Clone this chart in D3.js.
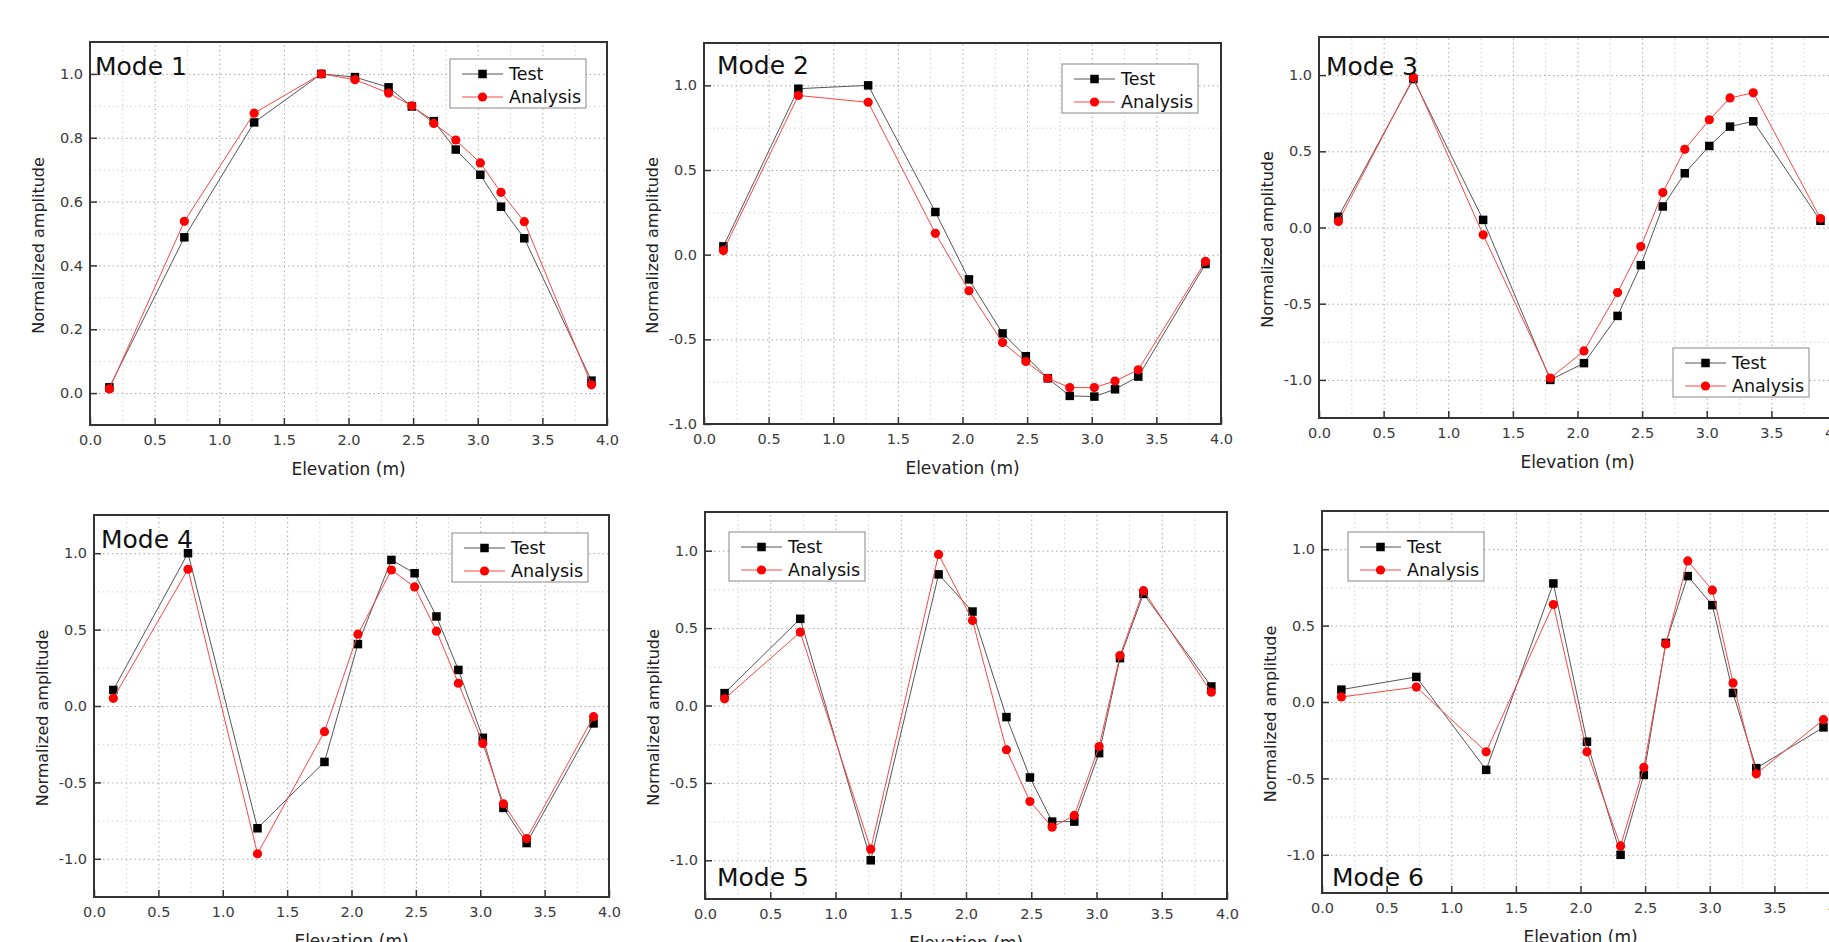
<!DOCTYPE html>
<html>
<head>
<meta charset="utf-8">
<script src="https://cdn.jsdelivr.net/npm/d3@7"></script>
<style>
  body { margin: 0; background: #fff; }
  svg { display: block; font-family: "DejaVu Sans", sans-serif; }
</style>
</head>
<body>
<script>
// elevations of the measuring points (m)
const elevation = [0.15, 0.73, 1.27, 1.79, 2.05, 2.31, 2.49, 2.66, 2.83, 3.02, 3.18, 3.36, 3.88];

const mode1Test = [0.018, 0.488, 0.848, 1.0, 0.99, 0.958, 0.898, 0.852, 0.763, 0.684, 0.584, 0.485, 0.039];
const mode1Analysis = [0.013, 0.538, 0.877, 1.0, 0.982, 0.94, 0.90, 0.845, 0.793, 0.721, 0.629, 0.537, 0.026];

const mode2Test = [0.049, 0.98, 1.0, 0.252, -0.146, -0.465, -0.60, -0.73, -0.834, -0.838, -0.795, -0.72, -0.055];
const mode2Analysis = [0.024, 0.94, 0.90, 0.126, -0.213, -0.519, -0.631, -0.73, -0.785, -0.785, -0.746, -0.68, -0.04];

const mode3Test = [0.07, 0.974, 0.05, -1.0, -0.89, -0.58, -0.247, 0.138, 0.356, 0.535, 0.662, 0.697, 0.044];
const mode3Analysis = [0.039, 0.985, -0.048, -0.988, -0.81, -0.427, -0.125, 0.229, 0.513, 0.707, 0.85, 0.884, 0.059];

const mode4Test = [0.105, 1.0, -0.80, -0.366, 0.405, 0.956, 0.869, 0.586, 0.236, -0.208, -0.667, -0.897, -0.114];
const mode4Analysis = [0.05, 0.895, -0.967, -0.168, 0.47, 0.89, 0.779, 0.49, 0.149, -0.245, -0.64, -0.867, -0.07];

const mode5Test = [0.08, 0.56, -1.0, 0.847, 0.607, -0.075, -0.465, -0.75, -0.75, -0.308, 0.306, 0.721, 0.123];
const mode5Analysis = [0.043, 0.474, -0.928, 0.976, 0.549, -0.286, -0.62, -0.786, -0.71, -0.265, 0.323, 0.742, 0.086];

const mode6Test = [0.081, 0.164, -0.444, 0.776, -0.26, -1.0, -0.477, 0.387, 0.824, 0.634, 0.059, -0.433, -0.166];
const mode6Analysis = [0.033, 0.098, -0.326, 0.638, -0.326, -0.942, -0.428, 0.38, 0.923, 0.732, 0.125, -0.47, -0.116];

const modeNames = ["Mode 1", "Mode 2", "Mode 3", "Mode 4", "Mode 5", "Mode 6"];
const seriesNames = ["Test", "Analysis"];

const xTicks = [0, 0.5, 1.0, 1.5, 2.0, 2.5, 3.0, 3.5, 4.0];
const yTicksMode1 = [0, 0.2, 0.4, 0.6, 0.8, 1.0];
const yTicksOther = [-1.0, -0.5, 0, 0.5, 1.0];

const testData = [mode1Test, mode2Test, mode3Test, mode4Test, mode5Test, mode6Test];
const analysisData = [mode1Analysis, mode2Analysis, mode3Analysis, mode4Analysis, mode5Analysis, mode6Analysis];
const yTickSets = [yTicksMode1, yTicksOther, yTicksOther, yTicksOther, yTicksOther, yTicksOther];

// panel layout (pixels) and axis ranges
const panels = [
  { left: 90, right: 607, top: 42, bottom: 425, yDomain: [-0.1, 1.1], step: 0.2, legend: [450, 59], label: [95, 75] },
  { left: 704, right: 1221, top: 43, bottom: 424, yDomain: [-1, 1.25], step: 0.5, legend: [1062, 64], label: [717, 74] },
  { left: 1319, right: 1836, top: 37, bottom: 418, yDomain: [-1.25, 1.25], step: 0.5, legend: [1673, 348], label: [1326, 75] },
  { left: 94, right: 609, top: 515, bottom: 897, yDomain: [-1.25, 1.25], step: 0.5, legend: [452, 533], label: [101, 548] },
  { left: 705, right: 1227, top: 512, bottom: 899, yDomain: [-1.25, 1.25], step: 0.5, legend: [729, 532], label: [717, 886] },
  { left: 1322, right: 1839, top: 511, bottom: 893, yDomain: [-1.25, 1.25], step: 0.5, legend: [1348, 532], label: [1332, 886] }
];

const svg = d3.select("body").append("svg")
  .attr("width", 1829)
  .attr("height", 942);

function midpoints(ticks, step, domain) {
  const out = [];
  ticks.forEach(function (t) {
    [t - step / 2, t + step / 2].forEach(function (m) {
      m = Math.round(m * 1000) / 1000;
      if (m > domain[0] + 1e-6 && m < domain[1] - 1e-6 && !out.includes(m)) out.push(m);
    });
  });
  return out;
}

function styleGrid(sel, color) {
  sel.select(".domain").remove();
  sel.selectAll("line")
    .attr("stroke", color)
    .attr("stroke-width", 1)
    .attr("stroke-dasharray", "1.5,3");
}

function drawPanel(p, i) {
  const x = d3.scaleLinear().domain([0, 4]).range([p.left, p.right]);
  const y = d3.scaleLinear().domain(p.yDomain).range([p.bottom, p.top]);
  const h = p.bottom - p.top;
  const w = p.right - p.left;
  const yTicks = yTickSets[i];
  const g = svg.append("g");

  // minor grid
  g.append("g")
    .attr("transform", "translate(0," + p.bottom + ")")
    .call(d3.axisBottom(x).tickValues(midpoints(xTicks, 0.5, [0, 4])).tickSize(-h).tickFormat(""))
    .call(s => styleGrid(s, "#d2d2d2"));
  g.append("g")
    .attr("transform", "translate(" + p.left + ",0)")
    .call(d3.axisLeft(y).tickValues(midpoints(yTicks, p.step, p.yDomain)).tickSize(-w).tickFormat(""))
    .call(s => styleGrid(s, "#d2d2d2"));

  // major grid
  g.append("g")
    .attr("transform", "translate(0," + p.bottom + ")")
    .call(d3.axisBottom(x).tickValues(xTicks.slice(1, -1)).tickSize(-h).tickFormat(""))
    .call(s => styleGrid(s, "#a8a8a8"));
  g.append("g")
    .attr("transform", "translate(" + p.left + ",0)")
    .call(d3.axisLeft(y).tickValues(yTicks).tickSize(-w).tickFormat(""))
    .call(s => styleGrid(s, "#a8a8a8"));

  // axes with inward ticks
  const xAxis = g.append("g")
    .attr("transform", "translate(0," + p.bottom + ")")
    .call(d3.axisBottom(x).tickValues(xTicks).tickSizeInner(-7).tickSizeOuter(0)
      .tickPadding(10).tickFormat(d => d.toFixed(1)));
  const yAxis = g.append("g")
    .attr("transform", "translate(" + p.left + ",0)")
    .call(d3.axisLeft(y).tickValues(yTicks).tickSizeInner(-7).tickSizeOuter(0)
      .tickPadding(7).tickFormat(d => d.toFixed(1)));
  [xAxis, yAxis].forEach(function (a) {
    a.select(".domain").remove();
    a.selectAll("line").attr("stroke", "#333").attr("stroke-width", 1.5);
    a.selectAll("text")
      .attr("fill", "#3a3a3a")
      .style("font-family", "DejaVu Sans")
      .style("font-size", "14.5px");
  });

  // axis titles
  g.append("text")
    .attr("x", (p.left + p.right) / 2)
    .attr("y", p.bottom + 50)
    .attr("text-anchor", "middle")
    .attr("fill", "#222")
    .style("font-size", "17px")
    .text("Elevation (m)");
  g.append("text")
    .attr("transform", "translate(" + (p.left - 52) + "," + ((p.top + p.bottom) / 2 + 12) + ") rotate(-90)")
    .attr("text-anchor", "middle")
    .attr("dy", "0.35em")
    .attr("fill", "#222")
    .style("font-size", "16px")
    .text("Normalized amplitude");

  // series
  const line = d3.line()
    .x((d, k) => x(elevation[k]))
    .y(d => y(d));

  g.append("path")
    .datum(testData[i])
    .attr("fill", "none")
    .attr("stroke", "#555")
    .attr("stroke-width", 1)
    .attr("d", line);
  g.selectAll(".sq")
    .data(testData[i])
    .enter().append("rect")
    .attr("class", "sq")
    .attr("x", (d, k) => x(elevation[k]) - 4.25)
    .attr("y", d => y(d) - 4.25)
    .attr("width", 8.5)
    .attr("height", 8.5)
    .attr("fill", "#000");

  g.append("path")
    .datum(analysisData[i])
    .attr("fill", "none")
    .attr("stroke", "#ff4444")
    .attr("stroke-width", 1)
    .attr("d", line);
  g.selectAll(".dot")
    .data(analysisData[i])
    .enter().append("circle")
    .attr("class", "dot")
    .attr("cx", (d, k) => x(elevation[k]))
    .attr("cy", d => y(d))
    .attr("r", 4.6)
    .attr("fill", "#ff0000");

  // frame
  g.append("rect")
    .attr("x", p.left)
    .attr("y", p.top)
    .attr("width", w)
    .attr("height", h)
    .attr("fill", "none")
    .attr("stroke", "#333")
    .attr("stroke-width", 2);

  // mode label
  g.append("text")
    .attr("x", p.label[0])
    .attr("y", p.label[1])
    .attr("fill", "#111")
    .style("font-size", "25px")
    .text(modeNames[i]);

  // legend
  const lg = g.append("g").attr("transform", "translate(" + p.legend[0] + "," + p.legend[1] + ")");
  lg.append("rect")
    .attr("width", 136)
    .attr("height", 49)
    .attr("fill", "#fff")
    .attr("stroke", "#888")
    .attr("stroke-width", 1);
  seriesNames.forEach(function (name, k) {
    const ly = 15 + k * 23;
    const color = k === 0 ? "#555" : "#ff4444";
    lg.append("line")
      .attr("x1", 12).attr("x2", 53)
      .attr("y1", ly).attr("y2", ly)
      .attr("stroke", color)
      .attr("stroke-width", 1);
    if (k === 0) {
      lg.append("rect")
        .attr("x", 32.5 - 4.25).attr("y", ly - 4.25)
        .attr("width", 8.5).attr("height", 8.5)
        .attr("fill", "#000");
    } else {
      lg.append("circle")
        .attr("cx", 32.5).attr("cy", ly)
        .attr("r", 4.6)
        .attr("fill", "#ff0000");
    }
    lg.append("text")
      .attr("x", 59)
      .attr("y", ly)
      .attr("dy", "0.36em")
      .attr("fill", "#111")
      .style("font-size", "17.5px")
      .text(name);
  });
}

panels.forEach(drawPanel);
</script>
</body>
</html>
